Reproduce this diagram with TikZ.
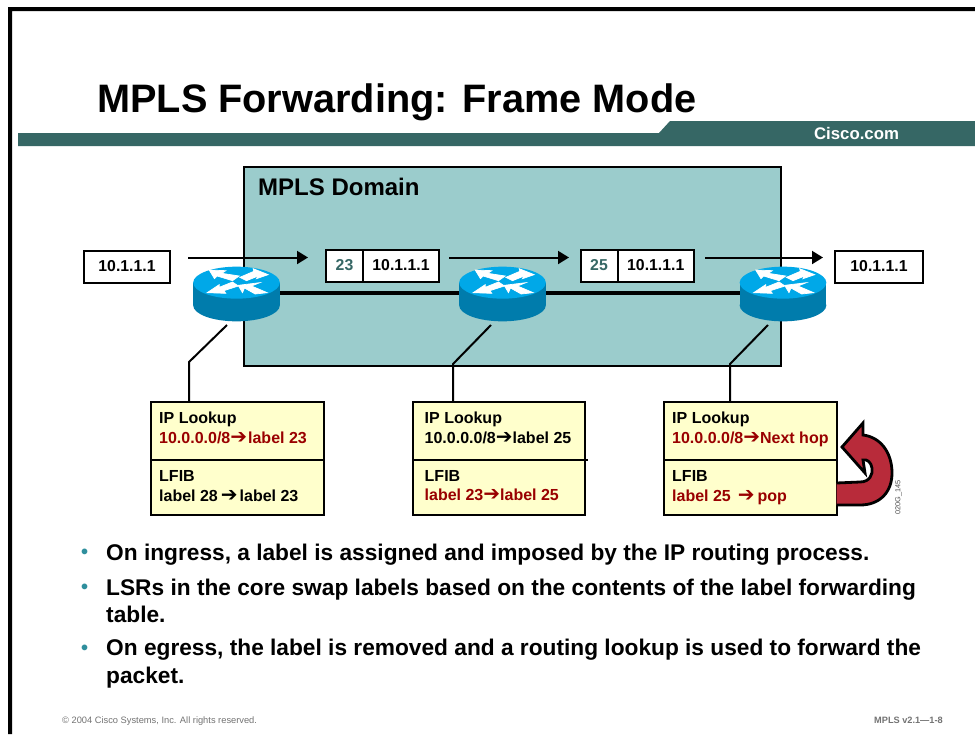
\documentclass[tikz,border=0pt]{standalone}
\usepackage{fontspec}
\setmainfont{Liberation Sans}
\newfontfamily\arrowfont{DejaVu Sans}
\usetikzlibrary{arrows.meta,calc}
\definecolor{barteal}{HTML}{366765}
\definecolor{domainfill}{HTML}{9BCCCC}
\definecolor{tablefill}{HTML}{FFFFCC}
\definecolor{darkred}{HTML}{990000}
\definecolor{bullet}{HTML}{2F8F9D}
\definecolor{routertop}{HTML}{00A8E8}
\definecolor{routerside}{HTML}{007CAC}
\definecolor{looparrow}{HTML}{B82B3A}
\newcommand{\rarr}{{\arrowfont\fontsize{20}{16}\selectfont ➔}}
\tikzset{
  ipbox/.style={draw,line width=2pt,outer sep=0pt,fill=white,minimum height=32,inner sep=0pt,font=\fontsize{15.800}{18}\bfseries\selectfont},
  tablebox/.style={draw,line width=2pt,outer sep=0pt,fill=tablefill,inner sep=0pt},
  tabletext/.style={anchor=base west,inner sep=0pt,font=\fontsize{16}{18}\bfseries\selectfont},
  bullettext/.style={anchor=base west,inner sep=0pt,font=\fontsize{22.7}{26}\bfseries\selectfont},
  bulletdot/.style={anchor=base west,inner sep=0pt,text=bullet,font=\fontsize{20}{25}\bfseries\selectfont},
  routerbase/.style={minimum width=87,minimum height=55,inner sep=0pt},
  routerarrow/.style={fill=white,draw=white,line width=0.7pt},
  flow/.style={line width=2pt,-{Triangle[length=11pt,width=13pt]}},
  leader/.style={line width=2pt},
}
\newcommand{\routericon}[1]{%
  \begin{scope}[shift={(#1)},x=0.3333pt,y=-0.3333pt]
    \fill[routerside] (-130,-31) rectangle (130,37);
    \fill[routerside] (0,37) ellipse[x radius=130,y radius=48];
    \fill[routertop] (0,-31) ellipse[x radius=130,y radius=48];
    \begin{scope}[shift={(-140,-93)}]
    \path[routerarrow] (58,24) -- (108,26) -- (96,34) -- (148,42) -- (128,56) -- (82,42) -- (74,50) -- cycle;
    \path[routerarrow] (235,38) -- (190,20) -- (192,28) -- (150,46) -- (170,56) -- (205,42) -- (200,50) -- cycle;
    \path[routerarrow] (52,92) -- (88,68) -- (88,76) -- (128,60) -- (146,72) -- (102,86) -- (108,94) -- cycle;
    \path[routerarrow] (145,70) -- (210,62) -- (185,72) -- (232,92) -- (196,96) -- (164,78) -- (158,92) -- cycle;
    \end{scope}
  \end{scope}}
\begin{document}
\begin{tikzpicture}[x=1pt,y=-1pt,line join=miter]
\useasboundingbox (0,0) rectangle (975,734);
% frame
\fill[white] (0,0) rectangle (975,734);
\fill[black] (8,734) -- (8,7) -- (975,7) -- (975,11) -- (12,11) -- (12,734) -- cycle;
% title and bar
\node[anchor=base west,inner sep=0pt,font=\fontsize{39.7}{44}\bfseries\selectfont] (title) at (97,112) {MPLS Forwarding: Frame Mode};
\fill[barteal] (18,133) -- (659,133) -- (670,121) -- (975,121) -- (975,146) -- (18,146) -- cycle;
\node[anchor=base,inner sep=0pt,text=white,font=\fontsize{16.8}{18}\bfseries\selectfont] (cisco) at (856.5,139.5) {Cisco.com};
% domain
\node[draw,line width=2pt,fill=domainfill,anchor=north west,minimum width=537,minimum height=199,inner sep=0pt] (domain) at (243,166) {};
\node[anchor=base west,inner sep=0pt,font=\fontsize{24}{26}\bfseries\selectfont] (domainlabel) at (258,195) {MPLS Domain};
% routers
\node[routerbase] (r1) at (236.5,293) {};
\node[routerbase] (r2) at (502.5,293) {};
\node[routerbase] (r3) at (783,293) {};
\draw[line width=3.5pt] (r1.center) -- (r2.center) -- (r3.center);
\routericon{r1.center}
\routericon{r2.center}
\routericon{r3.center}
% ip boxes
\node[ipbox,anchor=north west,minimum width=86] (ipin) at (84,250.500) {10.1.1.1};
\node[ipbox,anchor=north west,minimum width=88] (ipout) at (835,250.500) {10.1.1.1};
\node[ipbox,anchor=north west,minimum width=37,text=barteal] (l23) at (326,249.500) {23};
\node[ipbox,anchor=north west,minimum width=76] (p23) at (363,249.500) {10.1.1.1\hspace{3pt}};
\node[ipbox,anchor=north west,minimum width=37,text=barteal] (l25) at (580.500,249.500) {25};
\node[ipbox,anchor=north west,minimum width=76.500] (p25) at (617.500,249.500) {10.1.1.1};
% flow arrows
\coordinate (a1s) at (188,257.500); \coordinate (a1e) at (308,257.500);
\coordinate (a2s) at (449,257.500); \coordinate (a2e) at (569,257.500);
\coordinate (a3s) at (705,257.500); \coordinate (a3e) at (823,257.500);
\draw[flow] (a1s) -- (a1e);
\draw[flow] (a2s) -- (a2e);
\draw[flow] (a3s) -- (a3e);
% tables
\node[tablebox,anchor=north west,minimum width=173,minimum height=112.500] (t1) at (151,402) {};
\node[tablebox,anchor=north west,minimum width=172,minimum height=112.500] (t2) at (413,402) {};
\node[tablebox,anchor=north west,minimum width=172.500,minimum height=112.500] (t3) at (664,402) {};
\draw[line width=2pt] (t1.west |- 0,460) -- (t1.east |- 0,460);
\draw[line width=2pt] (t2.west |- 0,460) -- (588,460);
\draw[line width=2pt] (t3.west |- 0,460) -- (t3.east |- 0,460);
% leaders
\coordinate (k1) at (189,362); \coordinate (k2) at (453,364); \coordinate (k3) at (730,364);
\coordinate (s1) at (227,325); \coordinate (s2) at (491,325); \coordinate (s3) at (768,325);
\draw[leader] (s1) -- (k1) -- (k1 |- t1.north);
\draw[leader] (s2) -- (k2) -- (k2 |- t2.north);
\draw[leader] (s3) -- (k3) -- (k3 |- t3.north);
% table text
\node[tabletext] (t1a) at (159,423.500) {IP Lookup};
\node[tabletext,text=darkred] (t1b) at (159,443) {10.0.0.0/8\rarr\kern1pt label 23};
\node[tabletext] (t1c) at (159,481) {LFIB};
\node[tabletext] (t1d) at (159,501) {label 28\kern3pt\rarr\kern2pt label 23};
\node[tabletext] (t2a) at (424.500,423.500) {IP Lookup};
\node[tabletext] (t2b) at (424.500,443) {10.0.0.0/8\rarr label 25};
\node[tabletext] (t2c) at (424.500,481) {LFIB};
\node[tabletext,text=darkred] (t2d) at (424.500,500.500) {label 23\rarr label 25};
\node[tabletext] (t3a) at (672,423.500) {IP Lookup};
\node[tabletext,text=darkred] (t3b) at (672,443) {10.0.0.0/8\rarr Next hop};
\node[tabletext] (t3c) at (672,481) {LFIB};
\node[tabletext,text=darkred] (t3d) at (672,501) {label 25\kern7pt\rarr\kern3pt pop};
% loop arrow
\draw[line width=2.8pt,fill=looparrow,line join=miter]
  (t3.east |- 0,483) -- (860,482)
  .. controls (870,482) and (873,474) .. (872,468)
  .. controls (871,462) and (867,459) .. (863,460)
  -- (865,473) -- (842,447) -- (863,423) -- (863,435)
  .. controls (880,437) and (892,452) .. (892,473)
  .. controls (892,492) and (880,505) .. (860,505)
  -- (t3.east |- 0,505);
\node[rotate=90,anchor=center,inner sep=0pt,font=\fontsize{7.3}{8}\selectfont,text=black!70] (code) at (898.500,497.500) {020G\_145};
% bullets
\node[bulletdot] (b1) at (81,558.500) {•};
\node[bullettext] (b1t) at (106,560.500) {On ingress, a label is assigned and imposed by the IP routing process.};
\node[bulletdot] (b2) at (81,593.500) {•};
\node[bullettext] (b2t) at (106,595) {LSRs in the core swap labels based on the contents of the label forwarding};
\node[bullettext] (b2u) at (106,622) {table.};
\node[bulletdot] (b3) at (81,654) {•};
\node[bullettext] (b3t) at (106,655.500) {On egress, the label is removed and a routing lookup is used to forward the};
\node[bullettext] (b3u) at (106,683) {packet.};
% footer
\node[anchor=base west,inner sep=0pt,text=black!55,font=\fontsize{9.300}{10}\selectfont] (copy) at (62,723) {© 2004 Cisco Systems, Inc. All rights reserved.};
\node[anchor=base west,inner sep=0pt,text=black!55,font=\fontsize{9.200}{10}\bfseries\selectfont] (ver) at (874,723) {MPLS v2.1—1-8};
\end{tikzpicture}
\end{document}
